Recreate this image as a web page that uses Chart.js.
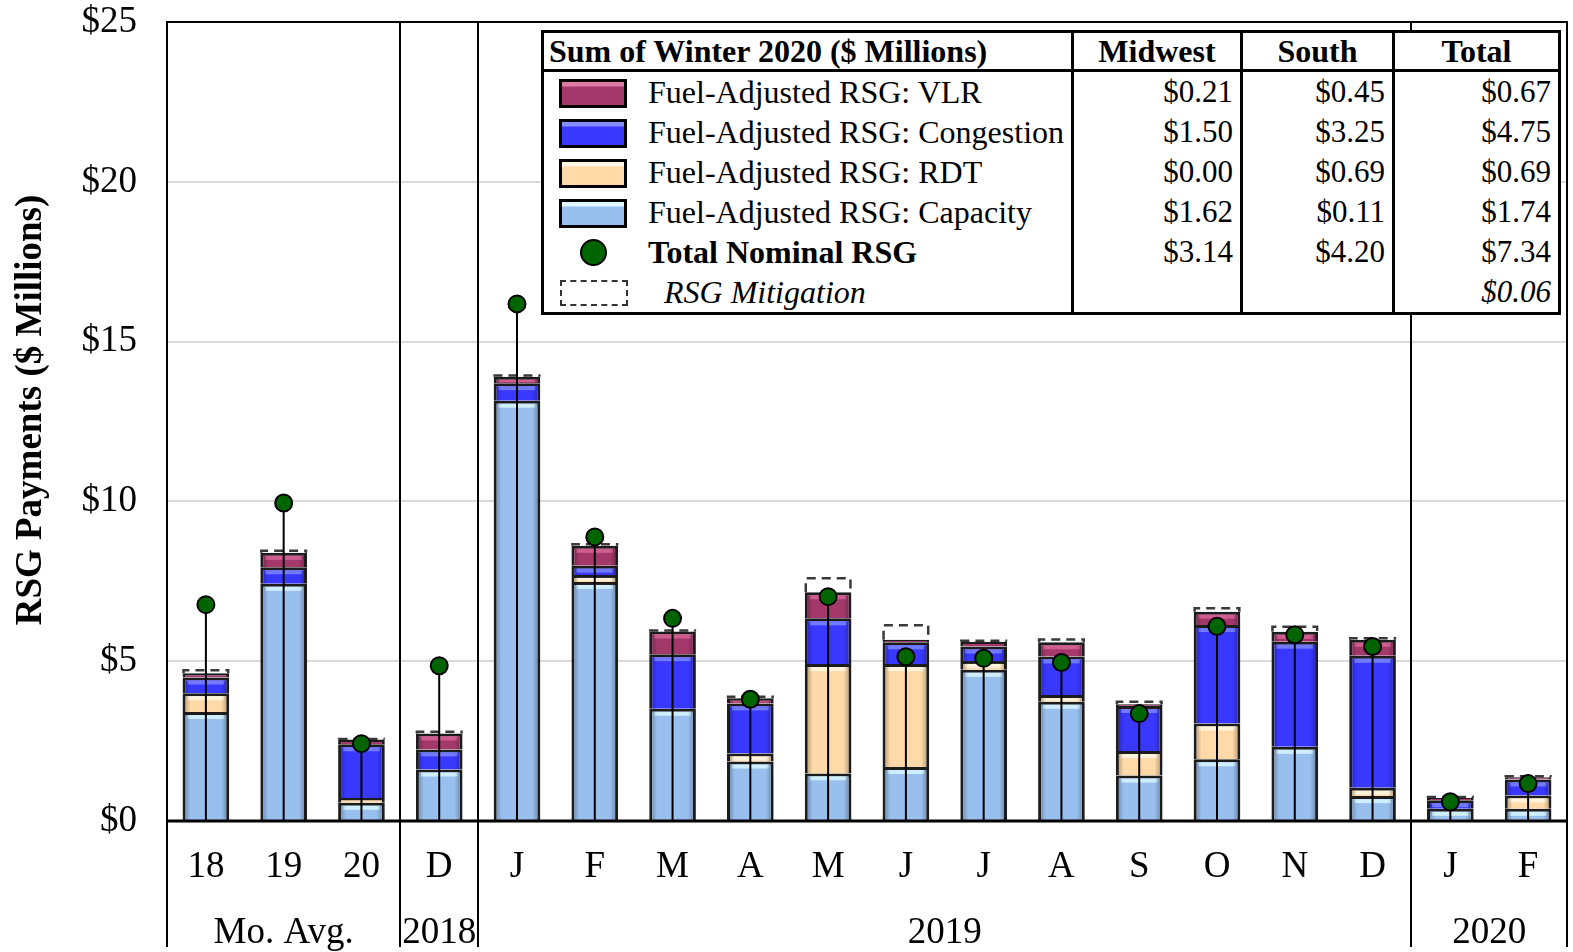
<!DOCTYPE html>
<html>
<head>
<meta charset="utf-8">
<script src="https://cdn.jsdelivr.net/npm/chart.js@4.4.1/dist/chart.umd.min.js"></script>
<style>
  html, body { margin: 0; padding: 0; background: #fff; }
  #wrap { position: relative; width: 1573px; height: 952px; overflow: hidden; }
  #c { position: absolute; left: 0; top: 0; }
  #tbl {
    position: absolute; left: 541px; top: 30px; width: 1017px; height: 282px;
    border-collapse: collapse; table-layout: fixed; background: #fff;
    font-family: 'Liberation Serif', 'Times New Roman', serif; font-size: 32px; color: #000;
    border: 3px solid #000;
  }
  #tbl th { font-weight: bold; font-size: 32px; height: 36px; padding: 0; border: 3px solid #000; white-space: nowrap; line-height: 36px; }
  #tbl th.first { text-align: left; padding-left: 5px; }
  #tbl td { padding: 0; height: 40px; line-height: 40px; border-left: 3px solid #000; border-right: 3px solid #000; white-space: nowrap; }
  #tbl td.num { text-align: right; padding-right: 7px; font-size: 31px; }
  .sw { display: inline-block; width: 62px; height: 23px; border: 3px solid #000; vertical-align: middle; margin-left: 15px; margin-right: 21px; position: relative; top: -2px; }
  .dotbox { display: inline-block; width: 68px; height: 28px; margin-left: 15px; margin-right: 21px; vertical-align: middle; position: relative; top: -3px; }
  .dot { position: absolute; left: 21px; top: 0; width: 23px; height: 23px; border-radius: 50%; background: #006400; border: 2px solid #000; }
  .dash { display: inline-block; width: 64px; height: 22px; border: 2px dashed #333; vertical-align: middle; margin-left: 16px; margin-right: 36px; position: relative; top: -3px; }
  .bold { font-weight: bold; }
  .ital { font-style: italic; }
</style>
</head>
<body>
<div id="wrap">
  <canvas id="c" width="1573" height="952"></canvas>
  <table id="tbl"></table>
</div>
<script>
// Monthly RSG payments, $ millions
const categories = ['18', '19', '20', 'D', 'J', 'F', 'M', 'A', 'M', 'J', 'J', 'A', 'S', 'O', 'N', 'D', 'J', 'F'];
const groupLabels = ['Mo. Avg.', '2018', '2019', '2020'];
const groupFirst = [0, 3, 4, 16];
const groupLast = [2, 3, 15, 17];

const capacity   = [3.41, 7.42, 0.57, 1.61, 13.15, 7.48, 3.51, 1.86, 1.49, 1.69, 4.73, 3.73, 1.42, 1.93, 2.32, 0.78, 0.38, 0.38];
const rdt        = [0.59, 0.00, 0.15, 0.00, 0.00, 0.22, 0.00, 0.25, 3.42, 3.22, 0.28, 0.21, 0.77, 1.12, 0.00, 0.26, 0.00, 0.42];
const congestion = [0.49, 0.52, 1.68, 0.63, 0.55, 0.29, 1.71, 1.57, 1.43, 0.68, 0.45, 1.21, 1.41, 3.08, 3.29, 4.13, 0.27, 0.50];
const vlr        = [0.13, 0.45, 0.15, 0.50, 0.20, 0.62, 0.71, 0.16, 0.82, 0.08, 0.15, 0.44, 0.05, 0.42, 0.31, 0.50, 0.07, 0.07];
const mitigation = [0.13, 0.10, 0.05, 0.08, 0.07, 0.08, 0.06, 0.08, 0.47, 0.49, 0.06, 0.12, 0.11, 0.14, 0.19, 0.08, 0.06, 0.06];
const totalNominal = [6.77, 9.95, 2.42, 4.86, 16.18, 8.89, 6.34, 3.81, 7.02, 5.14, 5.09, 4.96, 3.36, 6.09, 5.83, 5.46, 0.60, 1.17];

const yTickValues = [0, 5, 10, 15, 20, 25];
const yTitle = 'RSG Payments ($ Millions)';

// Winter 2020 summary table
const tableTitle = 'Sum of Winter 2020 ($ Millions)';
const tableColumns = ['Midwest', 'South', 'Total'];
const rowLabels = ['Fuel-Adjusted RSG: VLR', 'Fuel-Adjusted RSG: Congestion', 'Fuel-Adjusted RSG: RDT', 'Fuel-Adjusted RSG: Capacity', 'Total Nominal RSG', 'RSG Mitigation'];
const midwestCol = ['$0.21', '$1.50', '$0.00', '$1.62', '$3.14', ''];
const southCol   = ['$0.45', '$3.25', '$0.69', '$0.11', '$4.20', ''];
const totalCol   = ['$0.67', '$4.75', '$0.69', '$1.74', '$7.34', '$0.06'];

const FONT = "'Liberation Serif', 'Times New Roman', serif";

const colors = {
  capacity:   { fill: '#99BFEE', hi: 'rgba(215,245,255,0.85)' },
  rdt:        { fill: '#FFD9A8', hi: 'rgba(255,245,225,0.9)' },
  congestion: { fill: '#3838FF', hi: 'rgba(120,130,255,0.9)' },
  vlr:        { fill: '#A3386B', hi: 'rgba(215,100,150,0.85)' }
};

function swatchCss(c) {
  return 'background: linear-gradient(to bottom, ' + c.hi + ' 0px, ' + c.hi + ' 4px, ' + c.fill + ' 5px, ' + c.fill + ' 100%)';
}

// build the summary table
(function buildTable() {
  const t = document.getElementById('tbl');
  const widths = [530, 169, 152, 166];
  let html = '<colgroup>' + widths.map(w => '<col style="width:' + w + 'px">').join('') + '</colgroup>';
  html += '<tr><th class="first">' + tableTitle + '</th>' + tableColumns.map(c => '<th>' + c + '</th>').join('') + '</tr>';
  const keys = ['vlr', 'congestion', 'rdt', 'capacity'];
  rowLabels.forEach((lab, i) => {
    let first;
    if (i < 4) {
      first = '<span class="sw" style="' + swatchCss(colors[keys[i]]) + '"></span>' + lab;
    } else if (i === 4) {
      first = '<span class="dotbox"><span class="dot"></span></span><span class="bold">' + lab + '</span>';
    } else {
      first = '<span class="dash"></span><span class="ital">' + lab + '</span>';
    }
    const cls = i === 5 ? 'num ital' : 'num';
    html += '<tr><td>' + first + '</td><td class="' + cls + '">' + midwestCol[i] + '</td><td class="' + cls + '">' + southCol[i] + '</td><td class="' + cls + '">' + totalCol[i] + '</td></tr>';
  });
  t.innerHTML = html;
})();

const BAR_BORDER = 3;

function barDataset(label, data, c) {
  return {
    type: 'bar', label, data, order: 2, stack: 'rsg',
    backgroundColor: c.fill, borderColor: '#1c1c1c', borderWidth: BAR_BORDER,
    hi: c.hi, categoryPercentage: 1, barPercentage: 0.6
  };
}

const chartPlugin = {
  id: 'rsgDecor',
  beforeDatasetDraw(chart, args) {
    const ds = chart.data.datasets[args.index];
    if (ds.type !== 'line') return;
    // stems from zero up to each total marker
    const ctx = chart.ctx, y0 = chart.scales.y.getPixelForValue(0);
    ctx.save();
    ctx.strokeStyle = '#000'; ctx.lineWidth = 2;
    args.meta.data.forEach(pt => {
      ctx.beginPath(); ctx.moveTo(pt.x, y0); ctx.lineTo(pt.x, pt.y); ctx.stroke();
    });
    ctx.restore();
  },
  afterDatasetDraw(chart, args) {
    const ds = chart.data.datasets[args.index];
    if (ds.type !== 'bar') return;
    const ctx = chart.ctx;
    ctx.save();
    args.meta.data.forEach(el => {
      const p = el.getProps(['x', 'y', 'base', 'width'], true);
      const left = p.x - p.width / 2, right = p.x + p.width / 2;
      const top = Math.min(p.y, p.base), bot = Math.max(p.y, p.base);
      const h = bot - top;
      if (ds.dashed) {
        if (h <= 0.01) return;
        ctx.fillStyle = '#fff';
        ctx.fillRect(left, top, p.width, h);
        ctx.setLineDash([9, 6]);
        ctx.strokeStyle = '#3a3a3a'; ctx.lineWidth = 2.5;
        ctx.beginPath();
        ctx.moveTo(left + 1, bot); ctx.lineTo(left + 1, top + 1); ctx.lineTo(right - 1, top + 1); ctx.lineTo(right - 1, bot);
        ctx.stroke();
        ctx.setLineDash([]);
        return;
      }
      if (h < 5) return;
      const b = BAR_BORDER;
      // top highlight band
      ctx.fillStyle = ds.hi;
      ctx.fillRect(left + b + 2, top + b, p.width - 2 * b - 4, Math.min(4, h - b - 1));
      // soft shading on the sides
      const g = ctx.createLinearGradient(left + b, 0, right - b, 0);
      g.addColorStop(0, 'rgba(0,0,0,0.22)');
      g.addColorStop(0.12, 'rgba(0,0,0,0)');
      g.addColorStop(0.88, 'rgba(0,0,0,0)');
      g.addColorStop(1, 'rgba(0,0,0,0.22)');
      ctx.fillStyle = g;
      ctx.fillRect(left + b, top + b, p.width - 2 * b, h - b);
    });
    ctx.restore();
  },
  afterDraw(chart) {
    const ctx = chart.ctx, a = chart.chartArea, xs = chart.scales.x;
    const step = xs.getPixelForValue(1) - xs.getPixelForValue(0);
    const bottomY = 947;
    ctx.save();
    ctx.strokeStyle = '#000';
    // plot frame
    ctx.lineWidth = 2;
    ctx.beginPath();
    ctx.moveTo(a.left, bottomY); ctx.lineTo(a.left, a.top); ctx.lineTo(a.right, a.top); ctx.lineTo(a.right, bottomY);
    ctx.stroke();
    // group separators
    groupFirst.slice(1).forEach(i => {
      const x = Math.round(xs.getPixelForValue(i) - step / 2);
      ctx.beginPath(); ctx.moveTo(x, a.top); ctx.lineTo(x, bottomY); ctx.stroke();
    });
    // x axis line
    ctx.lineWidth = 3;
    ctx.beginPath(); ctx.moveTo(a.left, a.bottom); ctx.lineTo(a.right, a.bottom); ctx.stroke();
    ctx.fillStyle = '#000';
    // group labels
    ctx.font = '37px ' + FONT;
    ctx.textAlign = 'center'; ctx.textBaseline = 'middle';
    groupLabels.forEach((lab, k) => {
      const cx = (xs.getPixelForValue(groupFirst[k]) + xs.getPixelForValue(groupLast[k])) / 2;
      ctx.fillText(lab, cx, 933);
    });
    // y axis title
    ctx.font = 'bold 37px ' + FONT;
    ctx.translate(31, 410);
    ctx.rotate(-Math.PI / 2);
    ctx.fillText(yTitle, 0, 0);
    ctx.restore();
  }
};

const mitDs = barDataset('RSG Mitigation', mitigation, { fill: 'rgba(255,255,255,0)', hi: null });
mitDs.borderWidth = 0;
mitDs.dashed = true;

new Chart(document.getElementById('c'), {
  data: {
    labels: categories,
    datasets: [
      barDataset('Fuel-Adjusted RSG: Capacity', capacity, colors.capacity),
      barDataset('Fuel-Adjusted RSG: RDT', rdt, colors.rdt),
      barDataset('Fuel-Adjusted RSG: Congestion', congestion, colors.congestion),
      barDataset('Fuel-Adjusted RSG: VLR', vlr, colors.vlr),
      mitDs,
      {
        type: 'line', label: 'Total Nominal RSG', data: totalNominal, order: 1, stack: 'total',
        showLine: false, pointRadius: 8.5, pointHoverRadius: 8.5, pointBorderWidth: 2,
        pointBackgroundColor: '#006400', pointBorderColor: '#000'
      }
    ]
  },
  options: {
    responsive: false,
    animation: false,
    events: [],
    layout: { autoPadding: false, padding: { top: 22, right: 6, bottom: 0, left: 0 } },
    plugins: { legend: { display: false }, tooltip: { enabled: false } },
    scales: {
      x: {
        stacked: true,
        grid: { display: false, drawTicks: false },
        border: { display: false },
        ticks: { color: '#000', font: { family: FONT, size: 37 }, padding: 24, maxRotation: 0, autoSkip: false },
        afterFit(s) { s.height = 131; s.paddingLeft = 0; s.paddingRight = 0; }
      },
      y: {
        stacked: true, min: 0, max: 25,
        grid: { color: '#d9d9d9', lineWidth: 2, drawTicks: false },
        border: { display: false },
        afterBuildTicks(s) { s.ticks = yTickValues.map(v => ({ value: v })); },
        ticks: { color: '#000', font: { family: FONT, size: 37 }, padding: 30, callback: v => '$' + v },
        afterFit(s) { s.width = 167; s.paddingTop = 0; s.paddingBottom = 0; }
      }
    }
  },
  plugins: [chartPlugin]
});
</script>
</body>
</html>
